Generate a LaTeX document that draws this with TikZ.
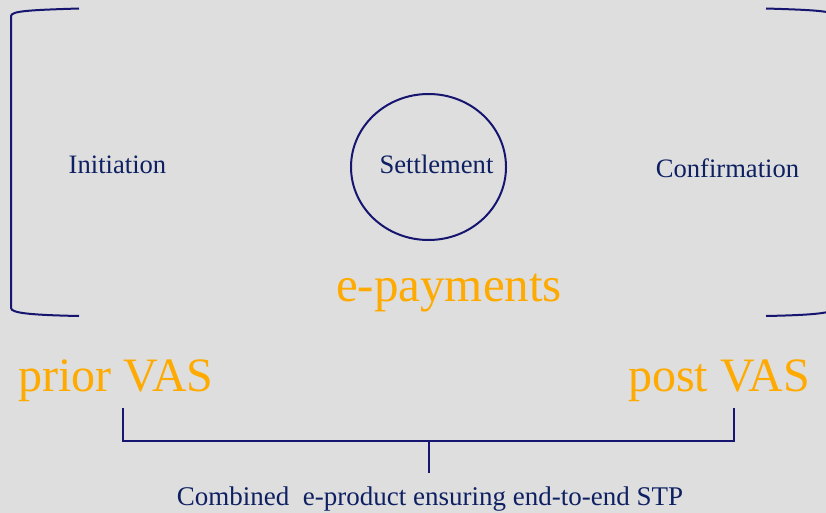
\documentclass[tikz,border=0pt]{standalone}
\usepackage{fontspec}
\setmainfont{Liberation Serif}
\usetikzlibrary{shapes.geometric}
\definecolor{bggray}{RGB}{222,222,222}
\definecolor{navyline}{RGB}{22,22,112}
\definecolor{navytext}{RGB}{14,32,98}
\definecolor{vasorange}{RGB}{255,170,0}
\begin{document}
\begin{tikzpicture}
[x=1pt,y=-1pt,every node/.style={inner sep=0pt},
 stage/.style={anchor=base,text=navytext,font=\fontsize{26.6}{30}\selectfont},
 vas/.style={anchor=base,text=vasorange,font=\fontsize{48}{54}\selectfont},
 wire/.style={draw=navyline,line width=2pt}]
\fill[bggray] (0,0) rectangle (826,513);
\useasboundingbox (0,0) rectangle (826,513);
\clip (0,0) rectangle (826,513);
% stages
\node[stage] (init) at (117.5,173) {Initiation};
\node[ellipse,wire,minimum width=155,minimum height=146] (ring) at (428.5,167) {};
\node[stage] (settle) at (436.5,173) {Settlement};
\node[stage] (confirm) at (727.5,177) {Confirmation};
\node[vas,font=\fontsize{49}{54}\selectfont] (epay) at (449,301) {e-payments};
\node[vas] (prior) at (116,391) {prior VAS};
\node[vas] (post) at (719,391) {post VAS};
\node[stage,font=\fontsize{27}{30}\selectfont] (combo) at (430,505) {Combined\ \ e-product ensuring end-to-end STP};
% side brackets
\coordinate (lt) at (79,8.5);  \coordinate (lb) at (79,316);
\coordinate (rt) at (766,8.5); \coordinate (rb) at (766,316);
\draw[wire] (lt) .. controls (30,10) and (11,11) .. (11,16) -- (11,308)
  .. controls (11,313) and (30,315) .. (lb);
\draw[wire] (rt) .. controls (815,10) and (834,11) .. (834,16) -- (834,308)
  .. controls (834,313) and (815,315) .. (rb);
% bottom bracket
\coordinate (pl) at (123,408); \coordinate (pr) at (734,408);
\coordinate (mid) at (429,441); \coordinate (stem) at (429,473);
\draw[wire] (pl) |- (mid) -| (pr);
\draw[wire] (mid) -- (stem);
\end{tikzpicture}
\end{document}
